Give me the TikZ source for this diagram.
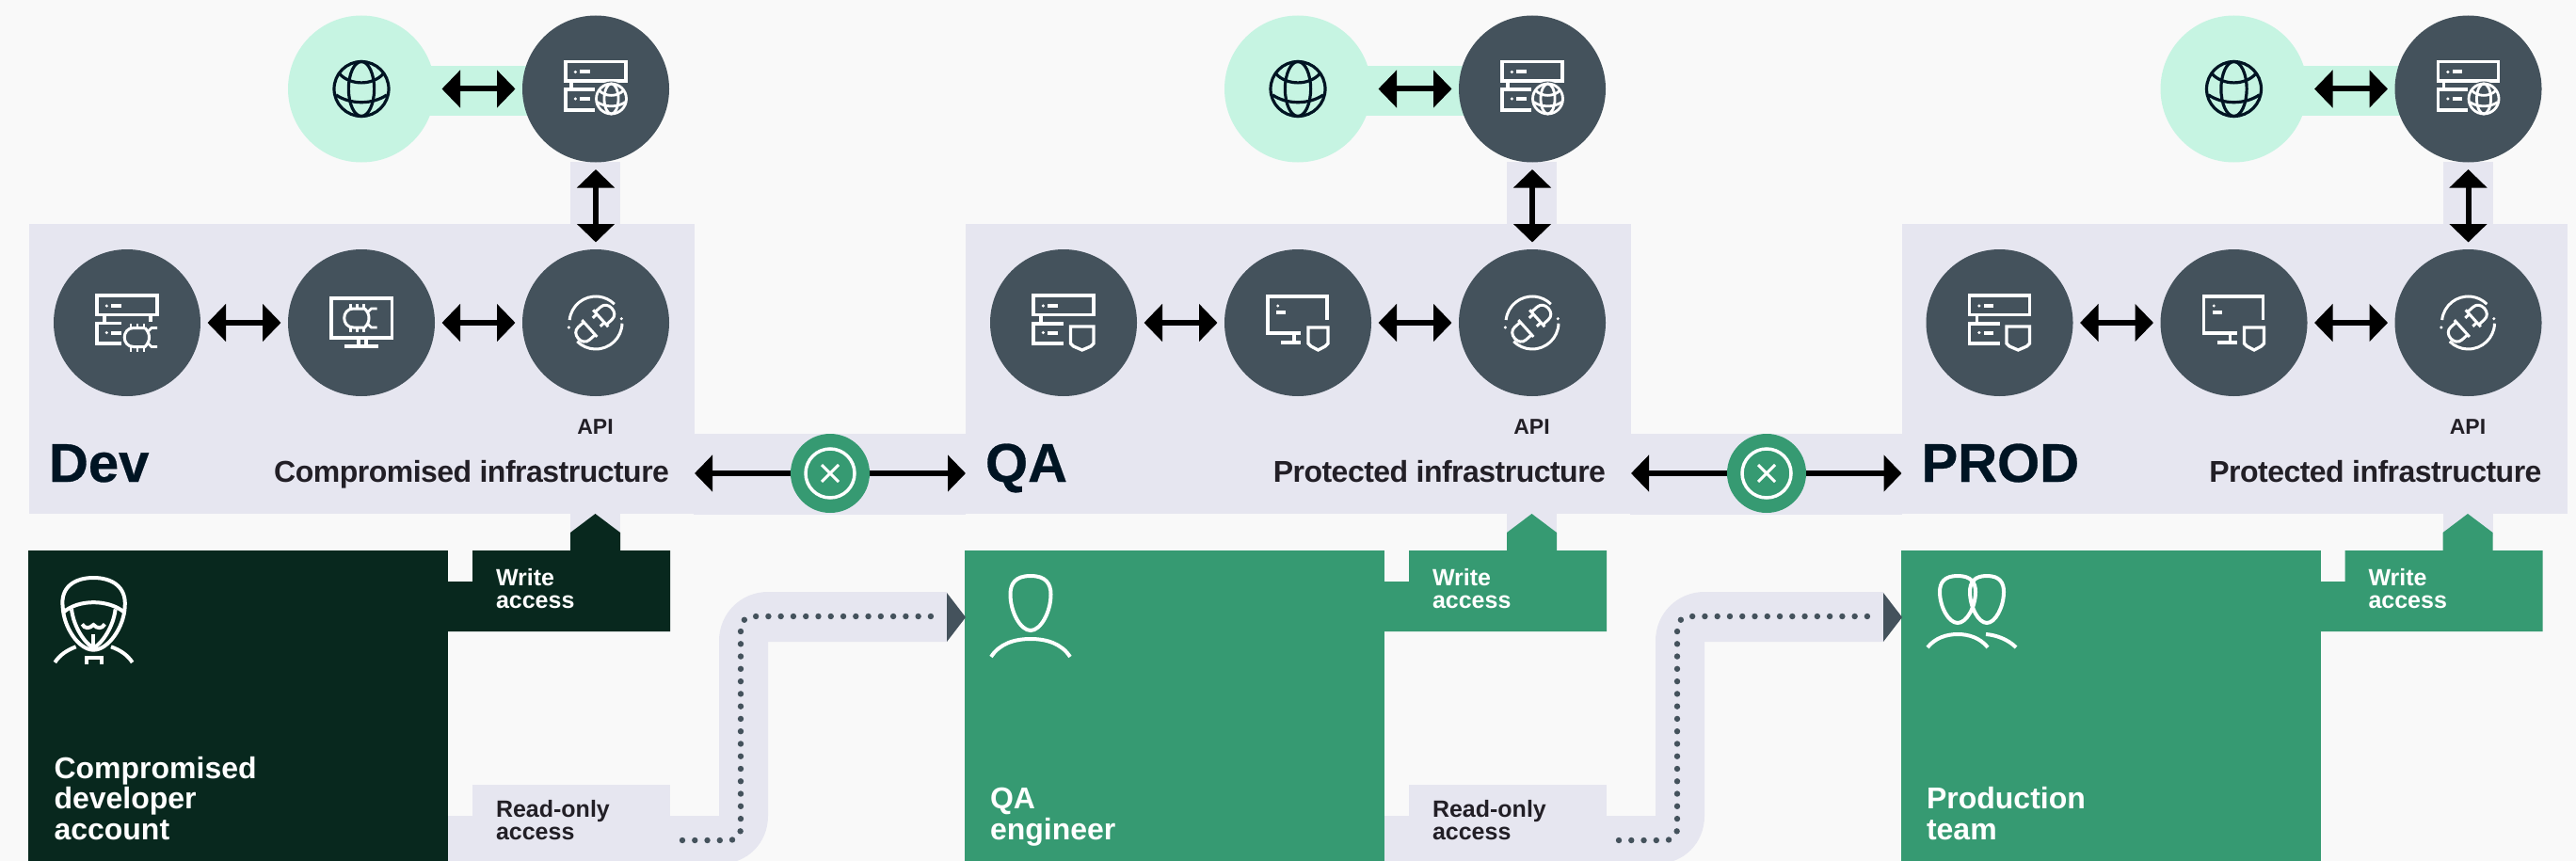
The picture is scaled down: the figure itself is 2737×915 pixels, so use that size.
\documentclass[tikz,border=0pt]{standalone}
\usepackage{fontspec}
\setmainfont{Liberation Sans}
\newfontfamily\fb[LetterSpace=-1.6]{Liberation Sans}
\newfontfamily\ft[FakeBold=0.5]{Liberation Sans}
\usetikzlibrary{arrows.meta,calc}
\definecolor{bgc}{HTML}{F9F9F9}
\definecolor{lav}{HTML}{E6E6F0}
\definecolor{slate}{HTML}{44525C}
\definecolor{mintc}{HTML}{C6F4E2}
\definecolor{grn}{HTML}{369A72}
\definecolor{dgrn}{HTML}{08281E}
\definecolor{ink}{HTML}{221F26}
\definecolor{navy}{HTML}{001423}
\tikzset{
  ball/.style={circle,minimum size=156pt,inner sep=0pt,outer sep=7.5pt,fill=slate},
  gatec/.style={circle,minimum size=84pt,inner sep=0pt,outer sep=0pt,fill=grn},
  panel/.style={rectangle,fill=lav,minimum width=707pt,minimum height=308pt,inner sep=0pt,outer sep=0pt,anchor=north west},
  biarrow/.style={line width=6pt,black,arrows={Triangle[length=19.5pt,width=39pt]-Triangle[length=19.5pt,width=39pt]}},
  oneway/.style={line width=5.5pt,black,arrows={-Triangle[length=19pt,width=38pt]}},
  ic/.style={draw=white,line width=3.3pt,line cap=butt,line join=miter},
  pers/.style={draw=white,line width=4pt,line cap=butt},
  txt/.style={inner sep=0pt,outer sep=0pt,anchor=base west,align=left},
  dotline/.style={draw=slate,line width=6.4pt,line cap=round,dash pattern=on 0pt off 13.27pt},
}
\newcommand\globeicon[5]{% cx cy r colour width
  \begin{scope}[shift={(#1,#2)},x=#3pt,y=-#3pt,draw=#4,line width=#5pt]
    \draw (0,0) circle [radius=1];
    \draw (0,0) ellipse [x radius=.47,y radius=1];
    \draw (-.8,-.55) .. controls (-.4,-.12) and (.4,-.12) .. (.8,-.55);
    \draw (-.93,.22) .. controls (-.4,.58) and (.4,.58) .. (.93,.22);
  \end{scope}}
\newcommand\bugicon[2]{%
  \begin{scope}[shift={(#1,#2)}]
    \draw[ic,line width=3pt] (9,-10) -- (-3,-10) .. controls (-16,-10) and (-16,10) .. (-3,10) -- (9,10) .. controls (15,4) and (15,-4) .. (9,-10);
    \draw[ic,line width=2.6pt] (-6,-10)--(-6,-15) (1,-10)--(1,-15) (8,-10)--(8,-15) (-6,10)--(-6,15) (1,10)--(1,15) (8,10)--(8,15);
    \draw[ic,line width=2.6pt] (12,-6) -- (16,-10) -- (22,-10) (12,6) -- (16,10) -- (22,10);
  \end{scope}}
\newcommand\srvtop{%
  \draw[ic] (-32,-29) rectangle (32,-8.5);
  \fill[white] (-21.7,-18) circle [radius=1.7];
  \fill[white] (-17,-20) rectangle (-6.5,-16);
  \fill[white] (-21.7,10.5) circle [radius=1.7];
  \fill[white] (-17,8.5) rectangle (-6.5,12.5);}
\newcommand\srvglobe[1]{\begin{scope}[shift={(#1.center)}]
  \srvtop
  \draw[ic] (-26,-8.5)--(-26,.5);
  \draw[ic] (-1,.5) -- (-32,.5) -- (-32,22.5) -- (-1,22.5);
  \fill[slate] (16.5,10.5) circle [radius=18.5];
  \globeicon{16.5}{10.5}{16}{white}{2.8}
  \end{scope}}
\newcommand\srvbug[1]{\begin{scope}[shift={(#1.center)}]
  \srvtop
  \draw[ic] (-24,-8.5)--(-24,.5) (25,-8.5)--(25,-1);
  \draw[ic] (-6,.5) -- (-32,.5) -- (-32,22) -- (-6,22);
  \bugicon{10}{15.5}
  \end{scope}}
\newcommand\shieldp[4]{% left right top sidebottom
  \draw[ic] (#1,#3) -- (#2,#3) -- (#2,#4) -- (#2-3,#4+3) -- ({(#1+#2)/2},#4+7) -- (#1+3,#4+3) -- (#1,#4) -- cycle;}
\newcommand\srvshield[1]{\begin{scope}[shift={(#1.center)}]
  \srvtop
  \draw[ic] (-24,-8.5)--(-24,1);
  \draw[ic] (0,1) -- (-32,1) -- (-32,22) -- (0,22);
  \shieldp{7.5}{32}{4}{22}
  \end{scope}}
\newcommand\monbug[1]{\begin{scope}[shift={(#1.center)}]
  \draw[ic] (-32,-26) rectangle (32.5,16);
  \draw[ic] (-3,16)--(-3,25) (5,16)--(5,25) (-18,25)--(18,25);
  \bugicon{-5.5}{-5}
  \end{scope}}
\newcommand\monshield[1]{\begin{scope}[shift={(#1.center)}]
  \draw[ic] (31,-3) -- (31,-28) -- (-32,-28) -- (-32,11) -- (3,11);
  \draw[ic] (-4,11)--(-4,21) (-18,21)--(3,21);
  \fill[white] (-21.3,-18) circle [radius=1.7];
  \fill[white] (-23,-13) rectangle (-13,-9);
  \shieldp{11}{32}{5}{22}
  \end{scope}}
\newcommand\plugicon[1]{\begin{scope}[shift={(#1.center)}]
  \draw[ic,line width=3pt] (186:28) arc [start angle=186,end angle=315,radius=28];
  \draw[ic,line width=3pt] (1.5:28) arc [start angle=1.5,end angle=135,radius=28];
  \fill[white] (-28.7,5) circle [radius=1.7] (27.3,-4.3) circle [radius=1.7];
  \begin{scope}[rotate=42]
    \draw[ic,line width=3pt] (7,-12)--(7,12);
    \draw[ic,line width=3pt] (7,-9) -- (15,-9) .. controls (20,-9) and (23,-5) .. (23,0) .. controls (23,5) and (20,9) .. (15,9) -- (7,9);
    \draw[ic,line width=3pt] (7,-6)--(1,-6) (7,6)--(1,6);
    \draw[ic,line width=3pt] (-9,-12)--(-9,12);
    \draw[ic,line width=3pt] (-9,-9) -- (-17,-9) .. controls (-22,-9) and (-25,-5) .. (-25,0) .. controls (-25,5) and (-22,9) .. (-17,9) -- (-9,9);
  \end{scope}
  \end{scope}}
\newcommand\egg[4]{% cx top bottom halfwidth
  \draw[pers] (#1,#2) .. controls ({#1+.75*#4},#2) and ({#1+#4},{#2+.14*(#3-#2)}) .. ({#1+#4},{#2+.34*(#3-#2)})
     .. controls ({#1+#4},{#2+.66*(#3-#2)}) and ({#1+.5*#4},#3) .. (#1,#3)
     .. controls ({#1-.5*#4},#3) and ({#1-#4},{#2+.66*(#3-#2)}) .. ({#1-#4},{#2+.34*(#3-#2)})
     .. controls ({#1-#4},{#2+.14*(#3-#2)}) and ({#1-.75*#4},#2) .. cycle;}
% one stage: offset, id, box colour, title, infrastructure text
\newcommand\stage[5]{%
  \begin{scope}[xshift=#1pt]
    \fill[mintc] (384,70) rectangle (633,123);
    \fill[lav] (606,172) rectangle (659,300);
    \node[panel] (#2p) at (31,238) {};
    \fill[lav] (606,546) rectangle (659,570);
    \node[ball,fill=mintc] (#2g) at (384,94.5) {};
    \node[ball] (#2s) at (633,94.5) {};
    \node[ball] (#2a) at (135,343) {};
    \node[ball] (#2b) at (384,343) {};
    \node[ball] (#2c) at (633,343) {};
    \draw[biarrow] (#2g) -- (#2s);
    \draw[biarrow] (#2s) -- (#2c);
    \draw[biarrow] (#2a) -- (#2b);
    \draw[biarrow] (#2b) -- (#2c);
    \node[txt,font=\fontsize{58}{58}\ft\bfseries,text=navy] (#2title) at (52,512) {#4};
    \node[txt,anchor=base east,font=\fontsize{32}{32}\fb\bfseries,text=ink] (#2infra) at (711,512) {#5};
    \node[txt,anchor=base,font=\fontsize{23}{23}\selectfont\bfseries,text=ink] (#2api) at (632.5,461) {API};
    % person box and write access
    \fill[#3] (30,585) rectangle (476,915);
    \fill[#3] (476,618) -- (502,618) -- (502,585) -- (606,585) -- (606,566) -- (632.5,546) -- (659,566) -- (659,585) -- (712,585) -- (712,671) -- (476,671) -- cycle;
    \node[txt,font=\fontsize{25}{24}\selectfont\bfseries,text=white] (#2wa) at (527,646.7) {Write\\access};
  \end{scope}}
% read-only path from a stage to the next one
\newcommand\readonly[2]{%
  \begin{scope}[xshift=#1pt]
    \fill[lav] (476,867) -- (764,867) -- (764,681) .. controls (764,652) and (787,629) .. (816,629) -- (1006,629) -- (1006,682) -- (816,682) -- (816,867) .. controls (816,896) and (794,918) .. (765,918) -- (476,918) -- cycle;
    \fill[lav] (502,834) rectangle (712,915);
    \coordinate (#2ds) at (725,893);
    \coordinate (#2de) at (994,655);
    \draw[dotline] (#2ds) -- (774,893) .. controls (782,893) and (787,888) .. (787,880) -- (787,669) .. controls (787,661) and (792,655) .. (800,655) -- (#2de);
    \fill[slate] (1006,630) -- (1026,656) -- (1006,682) -- cycle;
    \node[txt,font=\fontsize{25}{24.6}\selectfont\bfseries,text=ink] (#2ro) at (527,892.7) {Read-only\\access};
  \end{scope}}
\newcommand\gate[4]{% offset id from to
  \begin{scope}[xshift=#1pt]
    \fill[lav] (737,461) rectangle (1026,547);
    \node[gatec] (#2) at (882,503) {};
    \draw[oneway] (#2) -- (#3p.east |- #2);
    \draw[oneway] (#2) -- (#4p.west |- #2);
    \draw[white,line width=3.5pt] (#2) circle [radius=26];
    \draw[white,line width=3pt] ($(#2)+(-9,-9)$) -- ($(#2)+(9,9)$) ($(#2)+(-9,9)$) -- ($(#2)+(9,-9)$);
  \end{scope}}
\begin{document}
\begin{tikzpicture}[x=1pt,y=-1pt]
  \useasboundingbox (0,0) rectangle (2737,915);
  \fill[bgc] (0,0) rectangle (2737,915);
  \stage{0}{dev}{dgrn}{Dev}{Compromised infrastructure}
  \stage{995}{qa}{grn}{QA}{Protected infrastructure}
  \stage{1989.5}{prod}{grn}{PROD}{Protected infrastructure}
  \readonly{0}{one}
  \readonly{995}{two}
  \gate{0}{gone}{dev}{qa}
  \gate{995}{gtwo}{qa}{prod}
  % labels of the people
  \node[txt,font=\fontsize{32}{32.8}\selectfont\bfseries,text=white] (lone) at (57.5,892.7) {Compromised\\developer\\account};
  \node[txt,font=\fontsize{32}{32.8}\selectfont\bfseries,text=white] (ltwo) at (1052,892.7) {QA\\engineer};
  \node[txt,font=\fontsize{32}{32.8}\selectfont\bfseries,text=white] (lthree) at (2047,892.7) {Production\\team};
  % icons
  \foreach \n in {dev,qa,prod}{
    \path (\n g.center) coordinate (gc);
    \begin{scope}[shift={(gc)}]\globeicon{0}{0}{29}{navy}{3.2}\end{scope}
    \srvglobe{\n s}
    \plugicon{\n c}
  }
  \srvbug{deva}
  \monbug{devb}
  \srvshield{qaa}
  \monshield{qab}
  \srvshield{proda}
  \monshield{prodb}
  % hacker
  \begin{scope}[shift={(40,600)},x=.3333pt,y=-.3333pt]
    \draw[pers] (80,135) .. controls (72,70) and (120,42) .. (178,42) .. controls (236,42) and (284,70) .. (278,135)
       .. controls (275,200) and (225,272) .. (178,272) .. controls (131,272) and (83,200) .. (80,135) -- cycle;
    \draw[pers] (82,152) .. controls (130,110) and (226,110) .. (276,152);
    \draw[pers] (108,142) .. controls (115,200) and (150,250) .. (178,266) .. controls (206,250) and (241,200) .. (248,142);
    \draw[pers] (142,190) .. controls (150,205) and (165,205) .. (178,192) .. controls (190,205) and (205,205) .. (214,190);
    \draw[pers] (178,222) -- (178,262);
    \draw[pers] (55,312) .. controls (70,288) and (95,272) .. (122,262);
    \draw[pers] (302,312) .. controls (287,288) and (262,272) .. (234,262);
    \draw[pers] (155,318) -- (155,296) -- (205,296) -- (205,318);
  \end{scope}
  % QA person
  \egg{1095}{612}{670}{21.5}
  \draw[pers] (1053,698) .. controls (1062,684) and (1078,679) .. (1095,679) .. controls (1112,679) and (1128,684) .. (1137,698);
  % PROD people
  \egg{2080}{612}{662}{19}
  \egg{2111}{612}{662}{18}
  \draw[pers] (2048,688) .. controls (2056,678) and (2068,674) .. (2080,674) .. controls (2092,674) and (2104,678) .. (2112,688);
  \draw[pers] (2110,674) .. controls (2122,675) and (2134,680) .. (2142,688);
\end{tikzpicture}
\end{document}
